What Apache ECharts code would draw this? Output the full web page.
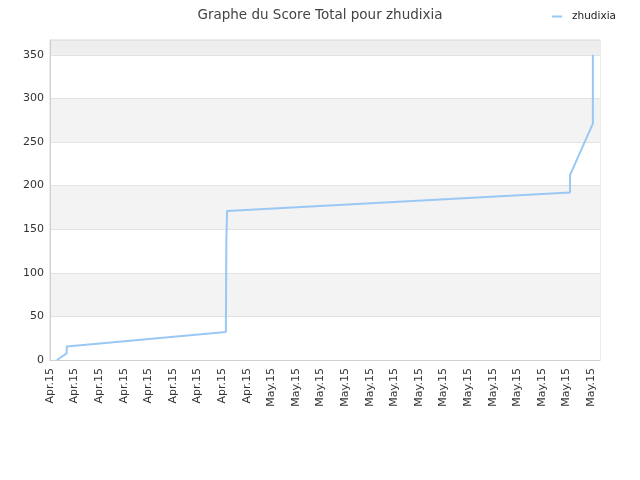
<!DOCTYPE html>
<html>
<head>
<meta charset="utf-8">
<script src="https://cdn.jsdelivr.net/npm/echarts@6/dist/echarts.min.js"></script>
<style>
  html, body { margin: 0; padding: 0; background: #fff; }
  #chart { width: 640px; height: 480px; }
</style>
</head>
<body>
<div id="chart"></div>
<script>
// tick labels along the x axis, one per unit
let tick_labels = ['Apr.15', 'Apr.15', 'Apr.15', 'Apr.15', 'Apr.15', 'Apr.15', 'Apr.15', 'Apr.15', 'Apr.15',
    'May.15', 'May.15', 'May.15', 'May.15', 'May.15', 'May.15', 'May.15', 'May.15', 'May.15', 'May.15',
    'May.15', 'May.15', 'May.15', 'May.15']
// position of each point, measured in tick units
let x_pos = [0.28, 0.68, 0.68, 7.15, 7.17, 7.2, 21.14, 21.14, 22.07, 22.07]
let score = [0, 7.6, 15.4, 32, 138, 171, 192, 212, 271, 350]

let chart = echarts.init(document.getElementById('chart'))
let points = x_pos.map(function (x, i) {
    return [x, score[i]]
})

let font = 'DejaVu Sans'
option = {
    animation: false,
    title: {
        text: 'Graphe du Score Total pour zhudixia',
        left: 'center',
        top: 3,
        textStyle: {
            fontFamily: font,
            fontSize: 13.5,
            fontWeight: 'normal',
            color: '#444'
        }
    },
    legend: {
        right: 19,
        top: 6,
        itemWidth: 10,
        itemHeight: 2,
        textStyle: {
            fontFamily: font,
            fontSize: 10.5,
            color: '#222',
            padding: [0, 0, 0, 5]
        },
        data: [{ name: 'zhudixia', icon: 'rect' }]
    },
    grid: {
        left: 50,
        right: 40,
        top: 40,
        bottom: 120,
        show: true,
        borderColor: '#d8d8d8',
        borderWidth: 1
    },
    xAxis: {
        type: 'value',
        min: 0,
        max: 22.36,
        interval: 1,
        axisLine: { show: true, lineStyle: { color: '#d0d0d0' } },
        axisTick: { show: false },
        splitLine: { show: false },
        axisLabel: {
            rotate: 90,
            showMaxLabel: false,
            margin: 8,
            fontFamily: font,
            fontSize: 11,
            color: '#333',
            formatter: function (v) {
                return tick_labels[Math.round(v)] || ''
            }
        }
    },
    yAxis: {
        type: 'value',
        min: 0,
        max: 367,
        interval: 50,
        axisLine: { show: true, lineStyle: { color: '#d0d0d0' } },
        axisTick: { show: false },
        axisLabel: {
            showMaxLabel: false,
            margin: 6,
            fontFamily: font,
            fontSize: 11,
            color: '#333'
        },
        splitLine: { lineStyle: { color: '#e2e2e2' } },
        splitArea: {
            show: true,
            areaStyle: { color: ['#ffffff', '#f3f3f3', '#ffffff', '#f3f3f3', '#ffffff', '#f3f3f3', '#ffffff', '#eeeeee'] }
        }
    },
    series: [
        {
            name: 'zhudixia',
            type: 'line',
            data: points,
            symbol: 'none',
            color: '#99c8f4',
            lineStyle: { width: 2, color: '#99c8f4' }
        }
    ]
}
chart.setOption(option)
</script>
</body>
</html>
